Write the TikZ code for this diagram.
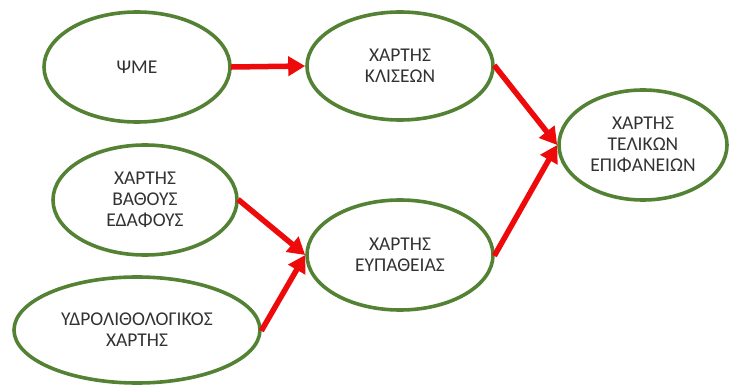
\documentclass[tikz,border=0pt]{standalone}
\usepackage{fontspec}
\setmainfont{Carlito}
\usetikzlibrary{arrows.meta,shapes.geometric}
\definecolor{leaf}{RGB}{84,130,53}
\definecolor{flow}{RGB}{238,10,10}
\definecolor{ink}{RGB}{50,50,50}
\begin{document}
\begin{tikzpicture}[x=1pt,y=-1pt,
  bubble/.style={ellipse,draw=leaf,line width=3.6pt,inner sep=0pt,
    minimum width=#1,align=center,text=ink,
    font=\fontsize{19.5}{21}\selectfont},
  bubble/.default=186pt,
  link/.style={draw=flow,line width=5.5pt,
    -{Triangle[length=17pt,width=19pt]},shorten <=-1pt,shorten >=0pt}]
\useasboundingbox (0,0) rectangle (732,385);
\node[bubble, minimum height=110pt] (dem) at (137,67) {ΨΜΕ};
\node[bubble, minimum height=108pt] (slope) at (400,66) {ΧΑΡΤΗΣ\\ΚΛΙΣΕΩΝ};
\node[bubble=168pt, minimum height=110pt] (final) at (643,145) {ΧΑΡΤΗΣ\\ΤΕΛΙΚΩΝ\\ΕΠΙΦΑΝΕΙΩΝ};
\node[bubble=184pt, minimum height=110pt] (depth) at (145,200) {ΧΑΡΤΗΣ\\ΒΑΘΟΥΣ\\ΕΔΑΦΟΥΣ};
\node[bubble, minimum height=110pt] (susc) at (400,255) {ΧΑΡΤΗΣ\\ΕΥΠΑΘΕΙΑΣ};
\node[bubble=246pt, minimum height=106pt] (hydro) at (137,330) {ΥΔΡΟΛΙΘΟΛΟΓΙΚΟΣ\\ΧΑΡΤΗΣ};
\draw[link] (dem.east) -- (slope.west);
\draw[link] (slope.east) -- (final.west);
\draw[link] (susc.east) -- (final.west);
\draw[link] (depth.east) -- (susc.west);
\draw[link] (hydro.east) -- (susc.west);
\end{tikzpicture}
\end{document}
